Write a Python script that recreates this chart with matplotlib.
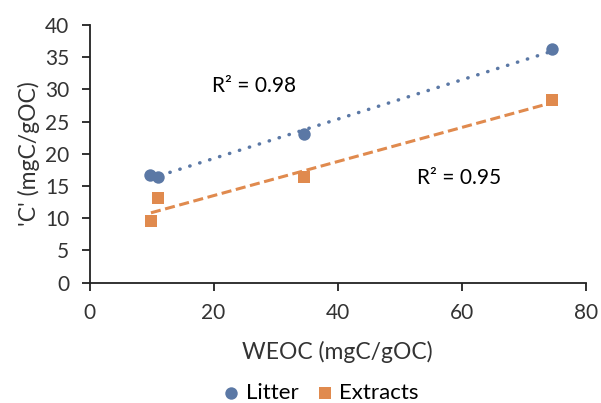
import numpy as np
import matplotlib.pyplot as plt

plt.rcParams['font.family'] = ['Lato', 'DejaVu Sans']

# WEOC vs 'C' for litter and water extracts
litter_weoc = [9.75, 11.1, 34.6, 74.6]
litter_c = [16.7, 16.4, 23.1, 36.2]
extract_weoc = [9.9, 11.1, 34.6, 74.6]
extract_c = [9.55, 13.1, 16.4, 28.3]
r2_labels = ["R\u00b2 = 0.98", "R\u00b2 = 0.95"]

blue = "#5b78a5"
orange = "#e08a4e"

fig = plt.figure(figsize=(6.01, 4.03), dpi=100)
ax = fig.add_axes([89.5 / 601, 1 - 282.7 / 403, 496.5 / 601, 257.7 / 403])

ax.scatter(litter_weoc, litter_c, s=80, color=blue, zorder=3, label="Litter", linewidths=0)
ax.scatter(extract_weoc, extract_c, s=75, marker="s", color=orange, zorder=3, label="Extracts", linewidths=0)

# linear trendlines over the data range
m, b = np.polyfit(litter_weoc, litter_c, 1)
xx = np.array([min(litter_weoc), max(litter_weoc)])
ax.plot(xx, m * xx + b, color=blue, lw=2.5, linestyle=(0, (0.1, 2.9)),
        dash_capstyle="round", zorder=2)

m, b = np.polyfit(extract_weoc, extract_c, 1)
xx = np.array([min(extract_weoc), max(extract_weoc)])
ax.plot(xx, m * xx + b, color=orange, lw=2.2, linestyle=(0, (3.3, 1.5)), zorder=2)

ax.text(26.5, 30.5, r2_labels[0], fontsize=15, ha="center", va="center")
ax.text(59.5, 16.3, r2_labels[1], fontsize=15, ha="center", va="center")

ax.set_xlim(0, 80)
ax.set_ylim(0, 40)
ax.set_xticks(range(0, 81, 20))
ax.set_yticks(range(0, 41, 5))
ax.tick_params(labelsize=15, length=5.5, width=1.3, color="#222222",
               labelcolor="#333333", pad=9)
for side in ["top", "right"]:
    ax.spines[side].set_visible(False)
for side in ["left", "bottom"]:
    ax.spines[side].set_linewidth(1.3)
    ax.spines[side].set_color("#222222")

ax.set_xlabel("WEOC (mgC/gOC)", fontsize=16.5, color="#333333", labelpad=13)
ax.set_ylabel("'C' (mgC/gOC)", fontsize=16.5, color="#333333", labelpad=4)

fig.legend(loc="center", bbox_to_anchor=(320 / 601, 1 - 393 / 403), ncol=2,
           frameon=False, fontsize=16, handlelength=0.9, handletextpad=0.2,
           columnspacing=0.75, markerscale=1.0)

fig.savefig("out.png", dpi=100)
